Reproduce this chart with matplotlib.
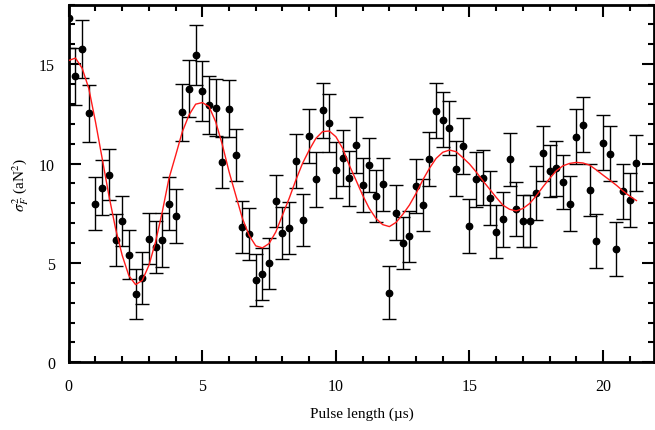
import matplotlib
matplotlib.use("Agg")
import matplotlib.pyplot as plt
import matplotlib.ticker as mticker

# ── data ──
pulse_us = [i * 0.25 for i in range(86)]  # 0 .. 21.25 us, step 0.25

sigma2 = [
    17.32, 14.39, 15.76, 12.53, 7.99, 8.78, 9.44, 6.15, 7.12, 5.42,
    3.44, 4.24, 6.22, 5.79, 6.16, 7.99, 7.34, 12.58, 13.76, 15.46,
    13.65, 12.95, 12.82, 10.06, 12.77, 10.43, 6.82, 6.46, 4.14, 4.45,
    4.99, 8.13, 6.49, 6.77, 10.14, 7.15, 11.39, 9.20, 12.68, 12.05,
    9.68, 10.28, 9.25, 10.94, 8.91, 9.92, 8.36, 8.96, 3.51, 7.52,
    6.01, 6.34, 8.88, 7.91, 10.23, 12.67, 12.21, 11.78, 9.75, 10.89,
    6.85, 9.20, 9.30, 8.26, 6.58, 7.19, 10.21, 7.70, 7.10, 7.10,
    8.52, 10.52, 9.63, 9.76, 9.07, 7.99, 11.35, 11.96, 8.68, 6.11,
    11.06, 10.50, 5.72, 8.60, 8.16, 10.04,
]

sigma2_err = [
    1.50, 1.43, 1.45, 1.43, 1.32, 1.39, 1.29, 1.32, 1.26, 1.25,
    1.25, 1.30, 1.29, 1.32, 1.34, 1.33, 1.36, 1.42, 1.43, 1.50,
    1.50, 1.44, 1.42, 1.30, 1.44, 1.33, 1.31, 1.31, 1.29, 1.30,
    1.29, 1.32, 1.31, 1.32, 1.36, 1.31, 1.37, 1.37, 1.39, 1.46,
    1.41, 1.41, 1.37, 1.40, 1.35, 1.35, 1.32, 1.34, 1.35, 1.38,
    1.30, 1.29, 1.35, 1.30, 1.37, 1.39, 1.37, 1.37, 1.39, 1.39,
    1.36, 1.37, 1.37, 1.36, 1.33, 1.37, 1.35, 1.35, 1.32, 1.32,
    1.37, 1.38, 1.33, 1.37, 1.34, 1.37, 1.39, 1.40, 1.30, 1.34,
    1.38, 1.37, 1.36, 1.40, 1.35, 1.40,
]

# fitted curve, read at the same pulse lengths
fit_vals = [
    15.19, 15.31, 14.80, 13.78, 12.10, 10.26, 8.41, 6.74, 5.38, 4.36,
    3.91, 4.12, 4.88, 6.07, 7.57, 9.25, 10.41, 11.60, 12.44, 12.99,
    13.07, 12.87, 12.10, 10.94, 9.59, 8.41, 7.24, 6.39, 5.86, 5.76,
    5.98, 6.56, 7.41, 8.25, 9.17, 10.01, 10.68, 11.27, 11.61, 11.64,
    11.35, 10.77, 9.92, 9.17, 8.41, 7.74, 7.24, 6.93, 6.83, 7.04,
    7.44, 7.91, 8.50, 9.17, 9.76, 10.26, 10.57, 10.68, 10.60, 10.30,
    9.98, 9.58, 9.14, 8.72, 8.30, 7.91, 7.70, 7.62, 7.74, 7.99,
    8.38, 8.83, 9.25, 9.64, 9.89, 10.01, 10.06, 10.03, 9.92, 9.68,
    9.42, 9.17, 8.91, 8.62, 8.36, 8.14,
]

plt.rcParams["font.family"] = ["Liberation Serif", "DejaVu Serif"]
plt.rcParams["mathtext.fontset"] = "stix"
plt.rcParams["font.size"] = 11

fig = plt.figure(figsize=(6.55, 4.31), dpi=100)
ax = fig.add_axes([0.105, 0.157, 0.894, 0.83])

ax.errorbar(pulse_us, sigma2, yerr=sigma2_err, fmt="o", color="black",
            markersize=4.6, elinewidth=1.0, capsize=5, capthick=1.0,
            zorder=2)
ax.plot(pulse_us, fit_vals, color="#ff1a1a", linewidth=1.0, zorder=3)

ax.set_xlim(0, 21.92)
ax.set_ylim(0, 18)
ax.xaxis.set_major_locator(mticker.MultipleLocator(5))
ax.xaxis.set_minor_locator(mticker.MultipleLocator(1))
ax.yaxis.set_major_locator(mticker.MultipleLocator(5))
ax.yaxis.set_minor_locator(mticker.MultipleLocator(1))

ax.tick_params(which="both", direction="in", top=True, right=True,
               labelsize=11.5, width=1.5)
ax.tick_params(axis="x", which="both", pad=11.5)
ax.tick_params(axis="y", which="both", pad=10)
ax.tick_params(which="major", length=8.5)
ax.tick_params(which="minor", length=4.3)
for sp in ax.spines.values():
    sp.set_linewidth(2.0)

ax.set_xlabel("Pulse length (µs)", fontsize=11, labelpad=9)
ax.set_ylabel(r"$\sigma_F^2$ (aN$^2$)", fontsize=11, labelpad=6)

fig.savefig("out.png", dpi=100)
